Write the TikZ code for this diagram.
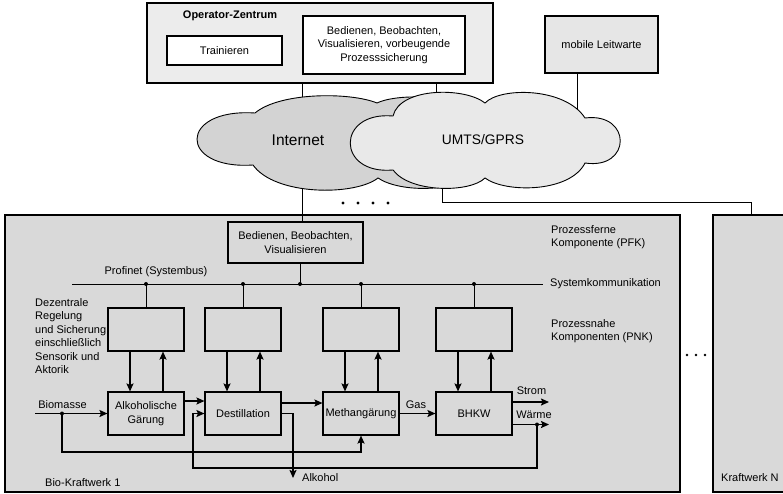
\documentclass[tikz,border=0pt]{standalone}
\usepackage{fontspec}
\setmainfont{Liberation Sans}
\usetikzlibrary{arrows.meta,calc}
\definecolor{opfill}{RGB}{236,236,236}
\definecolor{mobfill}{RGB}{230,230,230}
\definecolor{biofill}{RGB}{217,217,217}
\definecolor{inetfill}{RGB}{211,211,211}
\definecolor{umtsfill}{RGB}{233,233,233}
\begin{document}
\begin{tikzpicture}[x=1pt,y=-1pt,
  every node/.style={font=\fontsize{11}{13.5}\selectfont, inner sep=0pt},
  box/.style={draw, line width=1.1pt, align=center},
  thinline/.style={line width=0.9pt},
  flow/.style={line width=1.8pt, -{Stealth[length=8pt,width=7pt,inset=1.5pt]}},
  cloudline/.style={line width=0.9pt}]
\useasboundingbox (0,0) rectangle (783,493);

% big plant boxes
\node[box, fill=biofill, minimum width=675pt, minimum height=277pt] (bio) at (342.5,353.5) {};
\node[box, fill=biofill, minimum width=87pt, minimum height=277pt] (kwn) at (756.5,353.5) {};

% operator centre
\node[box, fill=opfill, minimum width=346pt, minimum height=80pt] (opz) at (320,43) {};
\node[font=\bfseries\fontsize{11}{13.5}\selectfont] (opzlabel) at (230,16) {Operator-Zentrum};
\node[box, fill=white, minimum width=115pt, minimum height=29pt] (train) at (224.5,50.5) {Trainieren};
\node[box, fill=white, minimum width=162pt, minimum height=58pt] (bedop) at (384,45) {Bedienen, Beobachten,\\Visualisieren, vorbeugende\\Prozesssicherung};
\node[box, fill=mobfill, minimum width=113pt, minimum height=57pt] (mobil) at (601.5,44.5) {mobile Leitwarte};

% PFK
\node[box, minimum width=135pt, minimum height=41pt] (pfk) at (295.5,242.5) {Bedienen, Beobachten,\\Visualisieren};

% coordinates
\coordinate (cI) at (302,0);
\coordinate (cU) at (436,0);
\coordinate (cM) at (577,0);
\coordinate (cP) at (300,0);
\coordinate (umtsbot) at (442,170);
\coordinate (cK) at (751,202);
\coordinate (inetin) at (302,110);

% lines to clouds
\draw[thinline] (opz.south -| cI) -- (pfk.north -| cI);
\draw[thinline] (opz.south -| cU) -- (cU |- inetin);
\draw[thinline] (mobil.south -| cM) -- (cM |- umtsbot);
\draw[thinline] (umtsbot) |- (cK) -- (kwn.north -| cK);

% clouds
\draw[cloudline, fill=inetfill] (255,113) .. controls (280,92) and (350,92) .. (377,103)
  .. controls (400,92) and (470,95) .. (480,120) -- (480,170)
  .. controls (460,193) and (400,193) .. (378,178)
  .. controls (355,196) and (275,196) .. (253,165)
  .. controls (178,170) and (178,108) .. cycle;
\draw[cloudline, fill=umtsfill] (393,116) .. controls (400,87) and (465,87) .. (485,103)
  .. controls (500,87) and (565,87) .. (585,118)
  .. controls (632,112) and (632,170) .. (585,163)
  .. controls (570,193) and (505,193) .. (485,178)
  .. controls (470,193) and (410,193) .. (393,170)
  .. controls (336,175) and (336,111) .. cycle;
\node[font=\fontsize{15.5}{18}\selectfont] (inet) at (298,140) {Internet};
\node[font=\fontsize{13.8}{16}\selectfont] (umts) at (483,140) {UMTS/GPRS};

% dots
\foreach \x in {343,358,373,388} \fill (\x,203) circle (1.6pt);
\foreach \x in {687,696,705} \fill (\x,355) circle (1.4pt);

% labels in plant
\node[anchor=north west, align=left] (pfklabel) at (551,225) {Prozessferne\\Komponente (PFK)};
\node[anchor=north west, align=left] (pnklabel) at (551,319) {Prozessnahe\\Komponenten (PNK)};
\node[anchor=north west, align=left] (dezlabel) at (35,298) {Dezentrale\\Regelung\\und Sicherung\\einschließlich\\Sensorik und\\Aktorik};
\node (profinet) at (156,272) {Profinet (Systembus)};
\node[anchor=west] (biolabel) at (45,483) {Bio-Kraftwerk 1};
\node[anchor=west] (kwnlabel) at (721,478) {Kraftwerk N};

% bus
\coordinate (busL) at (72,284);
\coordinate (busR) at (543,284);
\draw[thinline] (busL) -- (busR);
\node[anchor=west] (syskom) at (550,284) {Systemkommunikation};
\draw[thinline] (pfk.south -| cP) -- (busL -| cP);
\fill (busL -| cP) circle (2pt);

% PNK boxes and process boxes
\foreach \n/\x in {1/146,2/243,3/361,4/474}{
  \node[box, minimum width=76pt, minimum height=43pt] (pnk\n) at (\x,329.5) {};
  \draw[thinline] (pnk\n.north |- busL) -- (pnk\n.north);
  \fill (pnk\n.north |- busL) circle (2pt);
}
\node[box, minimum width=76pt, minimum height=43pt] (alk) at (146,413.5) {Alkoholische\\Gärung};
\node[box, minimum width=76pt, minimum height=43pt] (dest) at (243,413.5) {Destillation};
\node[box, minimum width=76pt, minimum height=43pt] (meth) at (361,413.5) {Methangärung};
\node[box, minimum width=76pt, minimum height=43pt] (bhkw) at (474,413.5) {BHKW};

\foreach \n/\p in {1/alk,2/dest,3/meth,4/bhkw}{
  \draw[flow] ([xshift=-16pt]pnk\n.south) -- ([xshift=-16pt]\p.north);
  \draw[flow] ([xshift=17pt]\p.north) -- ([xshift=17pt]pnk\n.south);
}

% material flows
\coordinate (bioin) at (35,413.5);
\coordinate (bsplit) at (62,413.5);
\coordinate (bbot) at (0,452);
\draw[flow] (bioin) -- (alk.west);
\node (biomasse) at (62.5,405) {Biomasse};
\draw[flow] (bsplit) |- (meth.south |- bbot) -- (meth.south);
\fill (bsplit) circle (2pt);

\draw[flow] ([yshift=12.5pt]alk.east) -- ([yshift=12.5pt]dest.west);
\draw[flow] ([yshift=10.5pt]dest.east) -- ([yshift=10.5pt]meth.west);
\draw[flow] (meth.east) -- (bhkw.west);
\node (gas) at (416,405) {Gas};

\coordinate (alkend) at (293,478);
\draw[flow] (dest.east) -| (alkend);
\node[anchor=west] (alklabel) at (302,478) {Alkohol};

\coordinate (stromend) at (549,402);
\coordinate (waermeend) at (549,424.5);
\coordinate (wdot) at (537,424.5);
\coordinate (fbb) at (0,468);
\coordinate (fbl) at (193,0);
\draw[flow] (bhkw.east |- stromend) -- (stromend);
\draw[flow] (bhkw.east |- waermeend) -- (waermeend);
\node (strom) at (531.5,391) {Strom};
\node (waerme) at (534,415) {Wärme};
\draw[flow] (wdot) |- (fbl |- fbb) |- (dest.west);
\fill (wdot) circle (2pt);
\end{tikzpicture}
\end{document}
